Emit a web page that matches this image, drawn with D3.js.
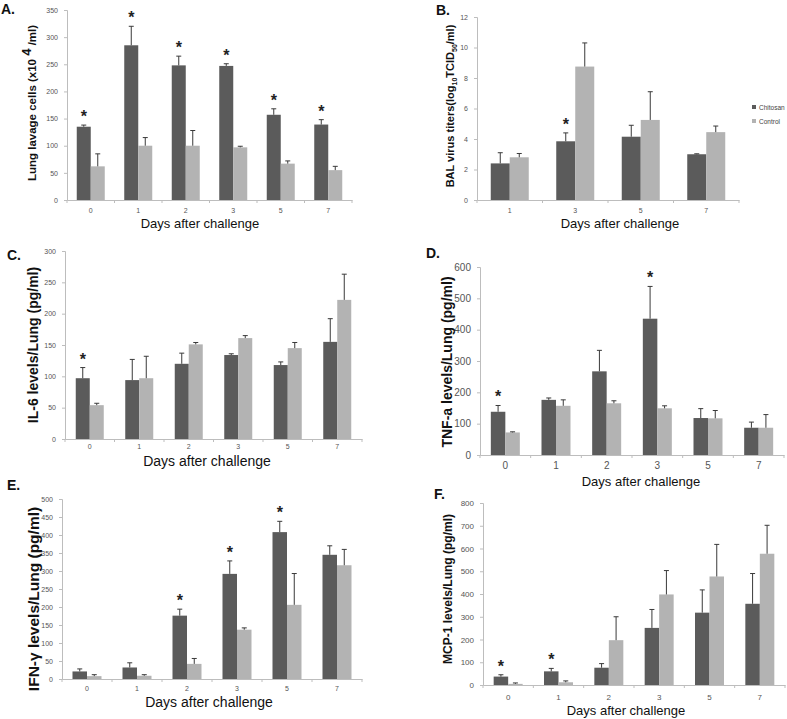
<!DOCTYPE html>
<html><head><meta charset="utf-8">
<script src="https://cdn.jsdelivr.net/npm/d3@7"></script>
<style>body{margin:0;background:#fff}svg{display:block}</style>
</head><body>
<svg id="chart" width="787" height="719"></svg>
<script>
// ---------- data ----------
const days6 = ["0", "1", "2", "3", "5", "7"];
const days4 = ["1", "3", "5", "7"];
const seriesNames = ["Chitosan", "Control"];

const lavageChitosan = [135, 285, 248, 247, 157, 139];
const lavageChitosanErr = [3, 35, 17, 4, 11, 9];
const lavageControl = [62, 100, 100, 97, 67, 55];
const lavageControlErr = [23, 15, 28, 2, 5, 7];
const lavageSig = [1, 1, 1, 1, 1, 1];

const virusChitosan = [2.4, 3.85, 4.15, 3.0];
const virusChitosanErr = [0.7, 0.55, 0.75, 0.03];
const virusControl = [2.8, 8.75, 5.25, 4.45];
const virusControlErr = [0.25, 1.55, 1.85, 0.4];
const virusSig = [0, 1, 0, 0];

const il6Chitosan = [97, 94, 120, 134, 118, 155];
const il6ChitosanErr = [17, 33, 17, 2, 5, 37];
const il6Control = [54, 97, 151, 161, 145, 222];
const il6ControlErr = [3, 35, 3, 4, 9, 41];
const il6Sig = [1, 0, 0, 0, 0, 0];

const tnfChitosan = [138, 176, 267, 435, 118, 87];
const tnfChitosanErr = [20, 6, 67, 103, 30, 18];
const tnfControl = [72, 157, 165, 149, 117, 87];
const tnfControlErr = [2, 19, 8, 8, 25, 42];
const tnfSig = [1, 0, 0, 1, 0, 0];

const ifnChitosan = [21, 32, 176, 292, 408, 345];
const ifnChitosanErr = [7, 13, 18, 36, 30, 25];
const ifnControl = [8, 9, 42, 137, 206, 316];
const ifnControlErr = [4, 3, 15, 5, 87, 44];
const ifnSig = [0, 0, 1, 1, 1, 0];

const mcpChitosan = [37, 60, 76, 251, 318, 357];
const mcpChitosanErr = [8, 13, 18, 81, 100, 133];
const mcpControl = [5, 12, 197, 398, 477, 577];
const mcpControlErr = [4, 6, 103, 105, 141, 125];
const mcpSig = [1, 1, 0, 0, 0, 0];

// ---------- drawing ----------
const COLORS = ["#5b5b5b", "#b3b3b3"];
const AXIS = "#bdbdbd";
const FONT = "'Liberation Sans', Arial, sans-serif";
const svg = d3.select("#chart");

function panel(cfg) {
  const g = svg.append("g");
  const x = d3.scaleBand().domain(cfg.cats).range([cfg.x0, cfg.x1]);
  const y = d3.scaleLinear().domain([0, cfg.max]).range([cfg.y0, cfg.yTop]);
  const bw = cfg.bw;
  const rows = cfg.cats.map((c, i) => ({
    c, i,
    v: [cfg.a[i], cfg.b[i]],
    e: [cfg.ae[i], cfg.be[i]],
    s: cfg.sig[i]
  }));
  [0, 1].forEach(k => {
    g.selectAll(null).data(rows).enter().append("rect")
      .attr("x", d => x(d.c) + x.bandwidth() / 2 - bw + k * bw)
      .attr("width", bw)
      .attr("y", d => y(d.v[k]))
      .attr("height", d => y(0) - y(d.v[k]))
      .attr("fill", COLORS[k]);
    g.selectAll(null).data(rows).enter().append("path")
      .attr("d", d => {
        const cx = x(d.c) + x.bandwidth() / 2 - bw / 2 + k * bw;
        const t = y(d.v[k] + d.e[k]);
        return `M${cx},${y(d.v[k])}V${t}M${cx - 2.5},${t}H${cx + 2.5}`;
      })
      .attr("stroke", "#3a3a3a").attr("stroke-width", 1).attr("fill", "none");
  });
  g.selectAll(null).data(rows.filter(d => d.s)).enter().append("text")
    .attr("x", d => x(d.c) + x.bandwidth() / 2 - bw / 2)
    .attr("y", d => y(d.v[0] + d.e[0]) - 3)
    .attr("text-anchor", "middle")
    .attr("font-family", FONT).attr("font-weight", "bold")
    .attr("font-size", 16).attr("fill", "#222")
    .text("*");
  const ya = g.append("g").attr("transform", `translate(${cfg.x0},0)`)
    .call(d3.axisLeft(y).tickValues(d3.range(0, cfg.max + cfg.step / 2, cfg.step)).tickSize(3).tickPadding(cfg.tickPad || 6));
  const xa = g.append("g").attr("transform", `translate(0,${cfg.y0})`)
    .call(d3.axisBottom(x).tickSize(0).tickPadding(cfg.xPad));
  [ya, xa].forEach(a => {
    a.select(".domain").attr("stroke", AXIS);
    a.selectAll(".tick line").attr("stroke", AXIS);
    a.selectAll("text").attr("fill", "#555").attr("font-family", FONT).attr("font-size", cfg.tickFs);
  });
  g.selectAll(null).data(d3.range(cfg.cats.length + 1)).enter().append("line")
    .attr("x1", i => cfg.x0 + i * x.step()).attr("x2", i => cfg.x0 + i * x.step())
    .attr("y1", cfg.y0).attr("y2", cfg.y0 + 3)
    .attr("stroke", AXIS);
  g.append("text").attr("x", cfg.xtX).attr("y", cfg.xtY)
    .attr("text-anchor", "middle").attr("font-family", FONT)
    .attr("font-size", cfg.xtFs).attr("fill", "#111").text("Days after challenge");
  const yt = g.append("text")
    .attr("transform", `translate(${cfg.ytX},${cfg.ytY}) rotate(-90)`)
    .attr("text-anchor", "middle").attr("font-family", FONT).attr("font-weight", "bold")
    .attr("font-size", cfg.ytFs).attr("fill", "#111");
  cfg.ytitle(yt);
  g.append("text").attr("x", cfg.lx).attr("y", cfg.ly)
    .attr("font-family", FONT).attr("font-weight", "bold").attr("font-size", 14)
    .attr("fill", "#111").text(cfg.letter);
  return g;
}

panel({
  cats: days6, a: lavageChitosan, ae: lavageChitosanErr, b: lavageControl, be: lavageControlErr, sig: lavageSig,
  max: 350, step: 50, x0: 67, x1: 352, yTop: 10, y0: 200, bw: 14, tickFs: 7, xPad: 8,
  xtX: 200, xtY: 228, xtFs: 13, ytX: 36, ytY: 103, ytFs: 11.5,
  ytitle: t => { t.append("tspan").text("Lung lavage cells (x10 ");
                 t.append("tspan").attr("dy", -5).attr("font-size", 13).text("4");
                 t.append("tspan").attr("dy", 5).text(" /ml)"); },
  letter: "A.", lx: 1, ly: 14
});

const gB = panel({
  cats: days4, a: virusChitosan, ae: virusChitosanErr, b: virusControl, be: virusControlErr, sig: virusSig,
  max: 12, step: 2, x0: 477, x1: 739, yTop: 17, y0: 200, bw: 19, tickFs: 7, xPad: 8,
  xtX: 620, xtY: 228, xtFs: 13, ytX: 454, ytY: 106, ytFs: 11,
  ytitle: t => { t.append("tspan").text("BAL  virus titers(log");
                 t.append("tspan").attr("dy", 3).attr("font-size", 7).text("10");
                 t.append("tspan").attr("dy", -3).text("TCID");
                 t.append("tspan").attr("dy", 3).attr("font-size", 7).text("50");
                 t.append("tspan").attr("dy", -3).text("/ml)"); },
  letter: "B.", lx: 436, ly: 15
});
const leg = gB.append("g");
seriesNames.forEach((n, i) => {
  leg.append("rect").attr("x", 752).attr("y", 105 + i * 14).attr("width", 4).attr("height", 4).attr("fill", COLORS[i]);
  leg.append("text").attr("x", 759).attr("y", 110 + i * 14).attr("font-family", FONT)
    .attr("font-size", 6.5).attr("fill", "#444").text(n);
});

panel({
  cats: days6, a: il6Chitosan, ae: il6ChitosanErr, b: il6Control, be: il6ControlErr, sig: il6Sig,
  max: 300, step: 50, x0: 65, x1: 362, yTop: 251, y0: 439, bw: 14, tickFs: 7, xPad: 5,
  xtX: 207, xtY: 466, xtFs: 14, ytX: 38, ytY: 345, ytFs: 14,
  ytitle: t => t.text("IL-6 levels/Lung (pg/ml)"),
  letter: "C.", lx: 7, ly: 260
});

panel({
  cats: days6, a: tnfChitosan, ae: tnfChitosanErr, b: tnfControl, be: tnfControlErr, sig: tnfSig,
  max: 600, step: 100, x0: 480, x1: 784, yTop: 267, y0: 455, bw: 14.5, tickFs: 10, xPad: 7,
  xtX: 641, xtY: 486, xtFs: 13, ytX: 452, ytY: 362, ytFs: 14,
  ytitle: t => t.text("TNF-a levels/Lung (pg/ml)"),
  letter: "D.", lx: 426, ly: 258
});

panel({
  cats: days6, a: ifnChitosan, ae: ifnChitosanErr, b: ifnControl, be: ifnControlErr, sig: ifnSig,
  max: 500, step: 50, x0: 62, x1: 362, yTop: 499, y0: 679, bw: 14.5, tickFs: 7, xPad: 7,
  xtX: 209, xtY: 707, xtFs: 14, ytX: 39, ytY: 599, ytFs: 15.5,
  ytitle: t => t.text("IFN-γ levels/Lung (pg/ml)"),
  letter: "E.", lx: 7, ly: 490
});

panel({
  cats: days6, a: mcpChitosan, ae: mcpChitosanErr, b: mcpControl, be: mcpControlErr, sig: mcpSig,
  max: 800, step: 100, x0: 483, x1: 785, yTop: 503, y0: 685, bw: 14.5, tickFs: 8, xPad: 9,
  xtX: 626, xtY: 715, xtFs: 13, ytX: 452, ytY: 589, ytFs: 12,
  ytitle: t => t.text("MCP-1 levels/Lung (pg/ml)"),
  letter: "F.", lx: 434, ly: 499
});
</script>
</body></html>
